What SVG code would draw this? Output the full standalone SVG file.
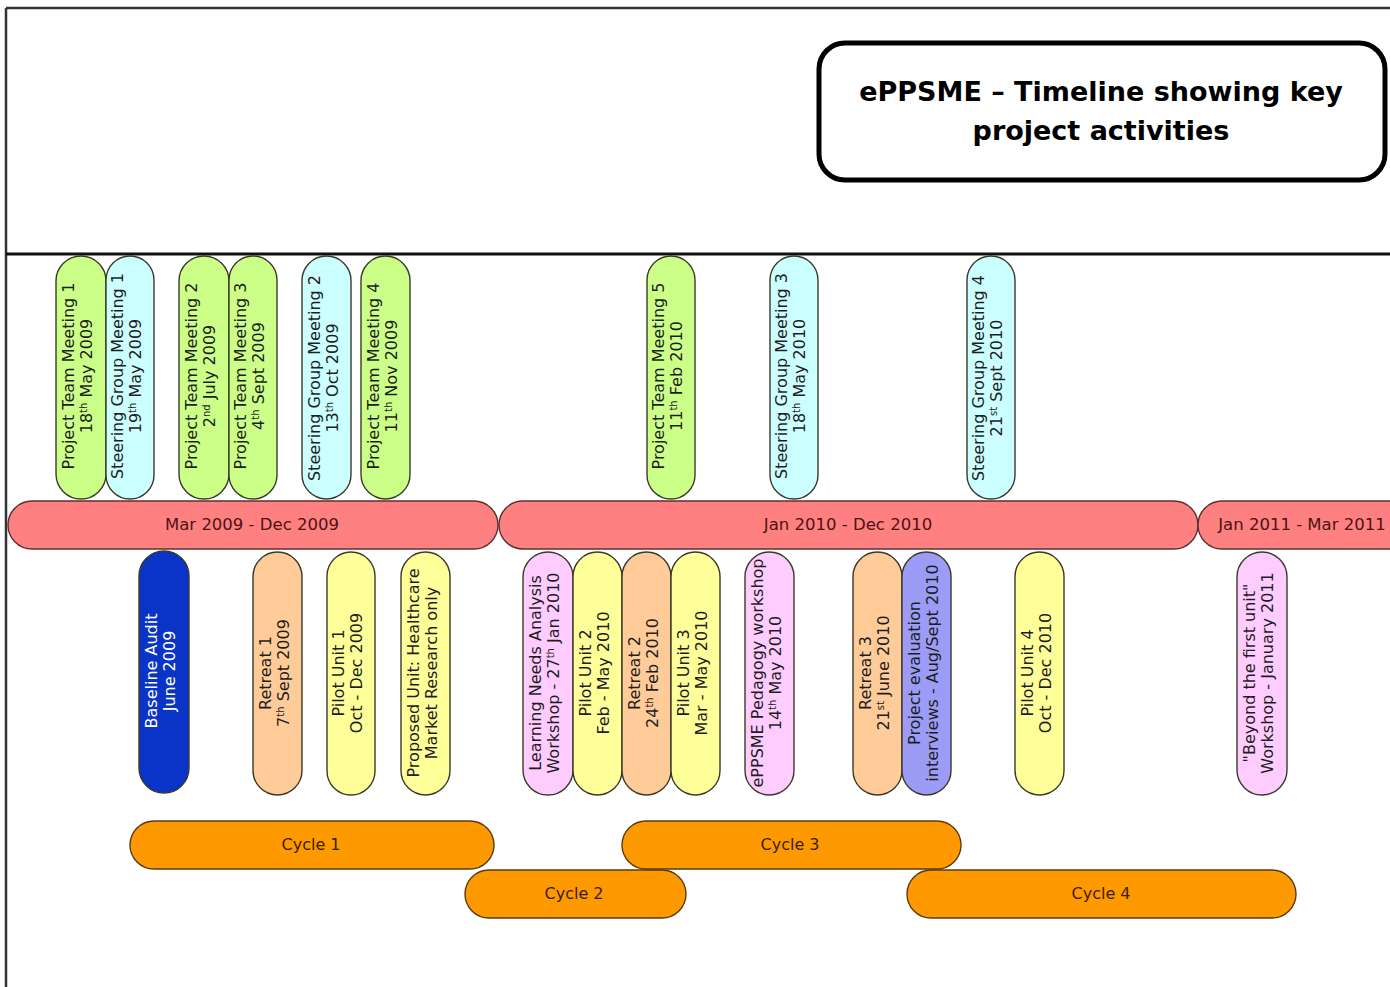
<svg xmlns="http://www.w3.org/2000/svg" width="1390" height="987" viewBox="0 0 1390 987">
  <style>
    text { font-family: "DejaVu Sans", "Liberation Sans", sans-serif; }
    .pill { stroke: #3a3a2a; stroke-width: 1.4; }
    .green { fill: #ccff88; }
    .cyan { fill: #ccffff; }
    .yellow { fill: #ffff99; }
    .peach { fill: #ffcc99; }
    .pink { fill: #ffccff; }
    .lav { fill: #9c9cf6; }
    .blue { fill: #0a33c8; }
    .vt { font-size: 16px; fill: #1e1e1e; text-anchor: middle; }
    .vt.white { fill: #ffffff; }
    .sup { font-size: 10px; }
    .bar { fill: #ff8080; stroke: #5b3030; stroke-width: 1.4; }
    .bart { font-size: 16.5px; fill: #4a1414; text-anchor: middle; }
    .cyc { fill: #ff9900; stroke: #5a3a10; stroke-width: 1.4; }
    .cyct { font-size: 16px; fill: #3a2000; text-anchor: middle; }
    .frame { stroke: #333333; stroke-width: 2.5; fill: none; }
    .title { font-size: 27px; font-weight: bold; text-anchor: middle; fill: #000; }
  </style>

  <rect width="1390" height="987" fill="#ffffff"/>

  <!-- page frame and header rule -->
  <g id="frame">
    <line class="frame" x1="6" y1="8" x2="1390" y2="8"/>
    <line class="frame" x1="6" y1="8" x2="6" y2="987"/>
    <line x1="6" y1="254" x2="1390" y2="254" stroke="#111" stroke-width="3"/>
  </g>

  <!-- title -->
  <g id="title">
    <rect x="819" y="43" width="566" height="137" rx="26" fill="#fff" stroke="#000" stroke-width="5"/>
    <text class="title" x="1101" y="101">ePPSME – Timeline showing key</text>
    <text class="title" x="1101" y="140">project activities</text>
  </g>

  <!-- meetings above the timeline -->
  <g id="ptm1">
    <rect class="pill green" x="56" y="256" width="50" height="243" rx="25"/>
    <text class="vt" transform="translate(81,376) rotate(-90)"><tspan x="0" y="-7">Project Team Meeting 1</tspan><tspan x="0" y="11">18<tspan class="sup" baseline-shift="super">th</tspan> May 2009</tspan></text>
  </g>
  <g id="sgm1">
    <rect class="pill cyan" x="106" y="256" width="48" height="243" rx="24"/>
    <text class="vt" transform="translate(130,376) rotate(-90)"><tspan x="0" y="-7">Steering Group Meeting 1</tspan><tspan x="0" y="11">19<tspan class="sup" baseline-shift="super">th</tspan> May 2009</tspan></text>
  </g>
  <g id="ptm2">
    <rect class="pill green" x="179" y="256" width="50" height="243" rx="25"/>
    <text class="vt" transform="translate(204,376) rotate(-90)"><tspan x="0" y="-7">Project Team Meeting 2</tspan><tspan x="0" y="11">2<tspan class="sup" baseline-shift="super">nd</tspan> July 2009</tspan></text>
  </g>
  <g id="ptm3">
    <rect class="pill green" x="229" y="256" width="48" height="243" rx="24"/>
    <text class="vt" transform="translate(253,376) rotate(-90)"><tspan x="0" y="-7">Project Team Meeting 3</tspan><tspan x="0" y="11">4<tspan class="sup" baseline-shift="super">th</tspan> Sept 2009</tspan></text>
  </g>
  <g id="sgm2">
    <rect class="pill cyan" x="302" y="256" width="49" height="243" rx="24.5"/>
    <text class="vt" transform="translate(326.5,378) rotate(-90)"><tspan x="0" y="-7">Steering Group Meeting 2</tspan><tspan x="0" y="11">13<tspan class="sup" baseline-shift="super">th</tspan> Oct 2009</tspan></text>
  </g>
  <g id="ptm4">
    <rect class="pill green" x="361" y="256" width="49" height="243" rx="24.5"/>
    <text class="vt" transform="translate(385.5,376) rotate(-90)"><tspan x="0" y="-7">Project Team Meeting 4</tspan><tspan x="0" y="11">11<tspan class="sup" baseline-shift="super">th</tspan> Nov 2009</tspan></text>
  </g>
  <g id="ptm5">
    <rect class="pill green" x="647" y="256" width="48" height="243" rx="24"/>
    <text class="vt" transform="translate(671,376) rotate(-90)"><tspan x="0" y="-7">Project Team Meeting 5</tspan><tspan x="0" y="11">11<tspan class="sup" baseline-shift="super">th</tspan> Feb 2010</tspan></text>
  </g>
  <g id="sgm3">
    <rect class="pill cyan" x="770" y="256" width="48" height="243" rx="24"/>
    <text class="vt" transform="translate(794,376) rotate(-90)"><tspan x="0" y="-7">Steering Group Meeting 3</tspan><tspan x="0" y="11">18<tspan class="sup" baseline-shift="super">th</tspan> May 2010</tspan></text>
  </g>
  <g id="sgm4">
    <rect class="pill cyan" x="967" y="256" width="48" height="243" rx="24"/>
    <text class="vt" transform="translate(991,378) rotate(-90)"><tspan x="0" y="-7">Steering Group Meeting 4</tspan><tspan x="0" y="11">21<tspan class="sup" baseline-shift="super">st</tspan> Sept 2010</tspan></text>
  </g>

  <!-- timeline periods -->
  <g id="period2009">
    <rect class="bar" x="8" y="501" width="490" height="48" rx="24"/>
    <text class="bart" x="252" y="530">Mar 2009 - Dec 2009</text>
  </g>
  <g id="period2010">
    <rect class="bar" x="499" y="501" width="699" height="48" rx="24"/>
    <text class="bart" x="848" y="530">Jan 2010 - Dec 2010</text>
  </g>
  <g id="period2011">
    <rect class="bar" x="1198" y="501" width="230" height="48" rx="24"/>
    <text class="bart" x="1302" y="530">Jan 2011 - Mar 2011</text>
  </g>

  <!-- activities below the timeline -->
  <g id="audit">
    <rect class="pill blue" x="139" y="551" width="50" height="242" rx="25"/>
    <text class="vt white" transform="translate(164,671) rotate(-90)"><tspan x="0" y="-7">Baseline Audit</tspan><tspan x="0" y="11">June 2009</tspan></text>
  </g>
  <g id="retreat1">
    <rect class="pill peach" x="253" y="552" width="49" height="243" rx="24.5"/>
    <text class="vt" transform="translate(277.5,673) rotate(-90)"><tspan x="0" y="-7">Retreat 1</tspan><tspan x="0" y="11">7<tspan class="sup" baseline-shift="super">th</tspan> Sept 2009</tspan></text>
  </g>
  <g id="pilot1">
    <rect class="pill yellow" x="327" y="552" width="48" height="243" rx="24"/>
    <text class="vt" transform="translate(351,673) rotate(-90)"><tspan x="0" y="-7">Pilot Unit 1</tspan><tspan x="0" y="11">Oct - Dec 2009</tspan></text>
  </g>
  <g id="proposed">
    <rect class="pill yellow" x="401" y="552" width="49" height="243" rx="24.5"/>
    <text class="vt" transform="translate(425.5,673) rotate(-90)"><tspan x="0" y="-7">Proposed Unit: Healthcare</tspan><tspan x="0" y="11">Market Research only</tspan></text>
  </g>
  <g id="lna">
    <rect class="pill pink" x="523" y="552" width="50" height="243" rx="25"/>
    <text class="vt" transform="translate(548,673) rotate(-90)"><tspan x="0" y="-7">Learning Needs Analysis</tspan><tspan x="0" y="11">Workshop - 27<tspan class="sup" baseline-shift="super">th</tspan> Jan 2010</tspan></text>
  </g>
  <g id="pilot2">
    <rect class="pill yellow" x="573" y="552" width="49" height="243" rx="24.5"/>
    <text class="vt" transform="translate(597.5,673) rotate(-90)"><tspan x="0" y="-7">Pilot Unit 2</tspan><tspan x="0" y="11">Feb - May 2010</tspan></text>
  </g>
  <g id="retreat2">
    <rect class="pill peach" x="622" y="552" width="49" height="243" rx="24.5"/>
    <text class="vt" transform="translate(646.5,673) rotate(-90)"><tspan x="0" y="-7">Retreat 2</tspan><tspan x="0" y="11">24<tspan class="sup" baseline-shift="super">th</tspan> Feb 2010</tspan></text>
  </g>
  <g id="pilot3">
    <rect class="pill yellow" x="671" y="552" width="49" height="243" rx="24.5"/>
    <text class="vt" transform="translate(695.5,673) rotate(-90)"><tspan x="0" y="-7">Pilot Unit 3</tspan><tspan x="0" y="11">Mar - May 2010</tspan></text>
  </g>
  <g id="pedagogy">
    <rect class="pill pink" x="745" y="552" width="49" height="243" rx="24.5"/>
    <text class="vt" transform="translate(769.5,673) rotate(-90)"><tspan x="0" y="-7">ePPSME Pedagogy workshop</tspan><tspan x="0" y="11">14<tspan class="sup" baseline-shift="super">th</tspan> May 2010</tspan></text>
  </g>
  <g id="retreat3">
    <rect class="pill peach" x="853" y="552" width="49" height="243" rx="24.5"/>
    <text class="vt" transform="translate(877.5,673) rotate(-90)"><tspan x="0" y="-7">Retreat 3</tspan><tspan x="0" y="11">21<tspan class="sup" baseline-shift="super">st</tspan> June 2010</tspan></text>
  </g>
  <g id="evaluation">
    <rect class="pill lav" x="902" y="552" width="49" height="243" rx="24.5"/>
    <text class="vt" transform="translate(926.5,673) rotate(-90)"><tspan x="0" y="-7">Project evaluation</tspan><tspan x="0" y="11">interviews - Aug/Sept 2010</tspan></text>
  </g>
  <g id="pilot4">
    <rect class="pill yellow" x="1015" y="552" width="49" height="243" rx="24.5"/>
    <text class="vt" transform="translate(1039.5,673) rotate(-90)"><tspan x="0" y="-7">Pilot Unit 4</tspan><tspan x="0" y="11">Oct - Dec 2010</tspan></text>
  </g>
  <g id="beyond">
    <rect class="pill pink" x="1237" y="552" width="50" height="243" rx="25"/>
    <text class="vt" transform="translate(1262,673) rotate(-90)"><tspan x="0" y="-7">"Beyond the first unit"</tspan><tspan x="0" y="11">Workshop - January 2011</tspan></text>
  </g>

  <!-- project cycles -->
  <g id="cycle1">
    <rect class="cyc" x="130" y="821" width="364" height="48" rx="24"/>
    <text class="cyct" x="311" y="850">Cycle 1</text>
  </g>
  <g id="cycle2">
    <rect class="cyc" x="465" y="870" width="221" height="48" rx="24"/>
    <text class="cyct" x="574" y="899">Cycle 2</text>
  </g>
  <g id="cycle3">
    <rect class="cyc" x="622" y="821" width="339" height="48" rx="24"/>
    <text class="cyct" x="790" y="850">Cycle 3</text>
  </g>
  <g id="cycle4">
    <rect class="cyc" x="907" y="870" width="389" height="48" rx="24"/>
    <text class="cyct" x="1101" y="899">Cycle 4</text>
  </g>

  <!-- no connectors are drawn between the items -->
  <g id="connectors"/>
</svg>
